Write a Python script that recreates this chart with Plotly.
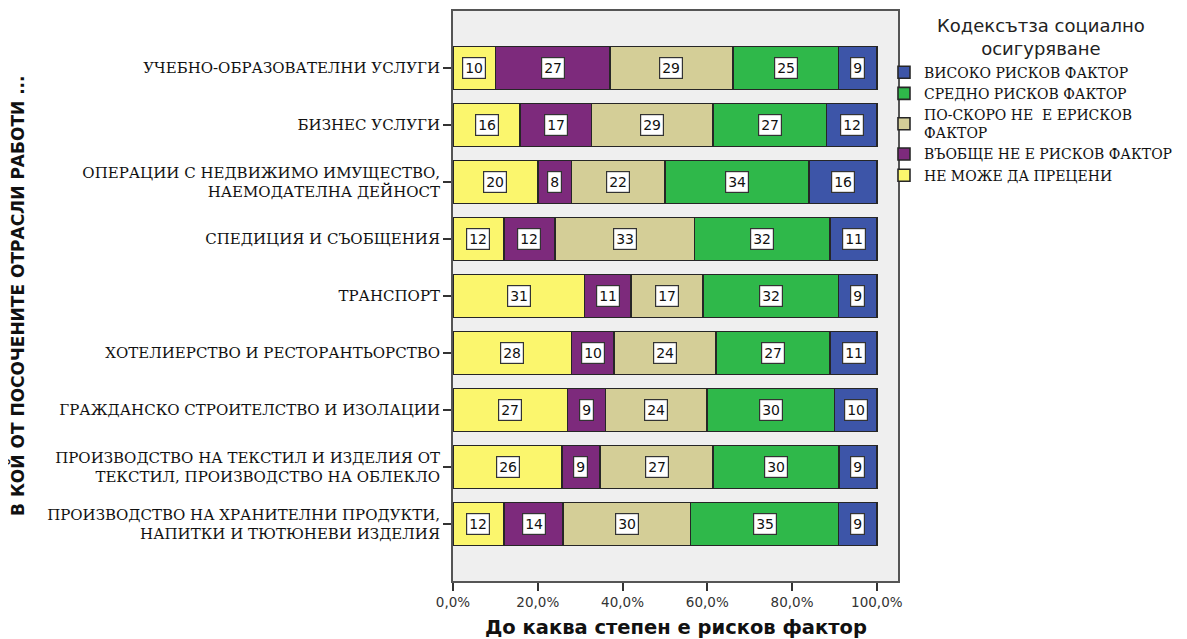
import plotly.graph_objects as go

categories = [
    "УЧЕБНО-ОБРАЗОВАТЕЛНИ УСЛУГИ",
    "БИЗНЕС УСЛУГИ",
    "ОПЕРАЦИИ С НЕДВИЖИМО ИМУЩЕСТВО,<br>НАЕМОДАТЕЛНА ДЕЙНОСТ",
    "СПЕДИЦИЯ И СЪОБЩЕНИЯ",
    "ТРАНСПОРТ",
    "ХОТЕЛИЕРСТВО И РЕСТОРАНТЬОРСТВО",
    "ГРАЖДАНСКО СТРОИТЕЛСТВО И ИЗОЛАЦИИ",
    "ПРОИЗВОДСТВО НА ТЕКСТИЛ И ИЗДЕЛИЯ ОТ<br>ТЕКСТИЛ, ПРОИЗВОДСТВО НА ОБЛЕКЛО",
    "ПРОИЗВОДСТВО НА ХРАНИТЕЛНИ ПРОДУКТИ,<br>НАПИТКИ И ТЮТЮНЕВИ ИЗДЕЛИЯ",
]

series_names = [
    "НЕ МОЖЕ ДА ПРЕЦЕНИ",
    "ВЪОБЩЕ НЕ Е РИСКОВ ФАКТОР",
    "ПО-СКОРО НЕ  Е ЕРИСКОВ<br>ФАКТОР",
    "СРЕДНО РИСКОВ ФАКТОР",
    "ВИСОКО РИСКОВ ФАКТОР",
]

ne_moje = [10, 16, 20, 12, 31, 28, 27, 26, 12]
vaobshte_ne = [27, 17, 8, 12, 11, 10, 9, 9, 14]
po_skoro_ne = [29, 29, 22, 33, 17, 24, 24, 27, 30]
sredno = [25, 27, 34, 32, 32, 27, 30, 30, 35]
visoko = [9, 12, 16, 11, 9, 11, 10, 9, 9]

series_values = [ne_moje, vaobshte_ne, po_skoro_ne, sredno, visoko]
colors = ["#FBF66D", "#7D2A7C", "#D4CE97", "#2FB84A", "#3D55A8"]

x_ticks = [0, 20, 40, 60, 80, 100]
x_tick_labels = ["0,0%", "20,0%", "40,0%", "60,0%", "80,0%", "100,0%"]

legend_title = "Кодексътза социално<br>осигуряване"
x_title = "До каква степен е рисков фактор"
y_title = "В КОЙ ОТ ПОСОЧЕНИТЕ ОТРАСЛИ РАБОТИ ..."

totals = [sum(s[i] for s in series_values) for i in range(len(categories))]

fig = go.Figure()
annotations = []
cum = [0.0] * len(categories)
for name, vals, col in zip(series_names, series_values, colors):
    pct = [v / t * 100 for v, t in zip(vals, totals)]
    fig.add_trace(go.Bar(
        y=categories, x=pct, name=name, orientation="h",
        marker=dict(color=col, line=dict(color="#262626", width=1.6)),
        width=0.75, hoverinfo="skip",
    ))
    for i, (v, p) in enumerate(zip(vals, pct)):
        annotations.append(dict(
            x=cum[i] + p / 2, y=categories[i], xref="x", yref="y",
            text=str(v), showarrow=False,
            font=dict(family="DejaVu Sans", size=14, color="#111"),
            bgcolor="white", bordercolor="#333", borderwidth=1.2, borderpad=2,
        ))
        cum[i] += p

annotations.append(dict(
    text="<b>" + y_title + "</b>",
    xref="paper", yref="paper", x=-0.98, y=0.5, textangle=-90,
    xanchor="center", yanchor="middle", showarrow=False,
    font=dict(family="DejaVu Sans", size=17, color="#111"),
))
annotations.append(dict(
    text="<b>" + x_title + "</b>",
    xref="paper", yref="paper", x=0.5, y=-0.082,
    xanchor="center", yanchor="middle", showarrow=False,
    font=dict(family="DejaVu Sans", size=19.5, color="#111"),
))
annotations.append(dict(
    text=legend_title,
    xref="paper", yref="paper", x=1.321, y=0.955,
    xanchor="center", yanchor="middle", showarrow=False, align="center",
    font=dict(family="DejaVu Sans", size=18, color="#222"),
))

fig.update_layout(
    barmode="stack",
    width=1179, height=631,
    margin=dict(l=445, r=289, t=3, b=58, autoexpand=False),
    paper_bgcolor="white",
    plot_bgcolor="#EFEFEF",
    annotations=annotations,
    showlegend=True,
    legend=dict(
        x=0.9685, y=0.92, xanchor="left", yanchor="top",
        traceorder="reversed",
        itemwidth=30,
        font=dict(family="DejaVu Serif", size=14, color="#111"),
        bgcolor="rgba(0,0,0,0)",
        tracegroupgap=0,
    ),
    xaxis=dict(
        range=[0, 105], tickvals=x_ticks, ticktext=x_tick_labels,
        showgrid=False, zeroline=False, automargin=False,
        ticks="outside", ticklen=8, tickwidth=1.5, tickcolor="#333",
        showline=True, linecolor="#555", linewidth=1.5, mirror=True,
        tickfont=dict(family="DejaVu Sans", size=13.5, color="#333"),
    ),
    yaxis=dict(
        type="category", categoryorder="array", categoryarray=categories,
        range=[len(categories), -1], automargin=False,
        showgrid=False, zeroline=False,
        ticks="outside", ticklen=8, tickwidth=1.5, tickcolor="#333",
        showline=True, linecolor="#555", linewidth=2, mirror=True,
        tickfont=dict(family="DejaVu Serif", size=15, color="#111"),
    ),
)

fig.write_html("out.html")
